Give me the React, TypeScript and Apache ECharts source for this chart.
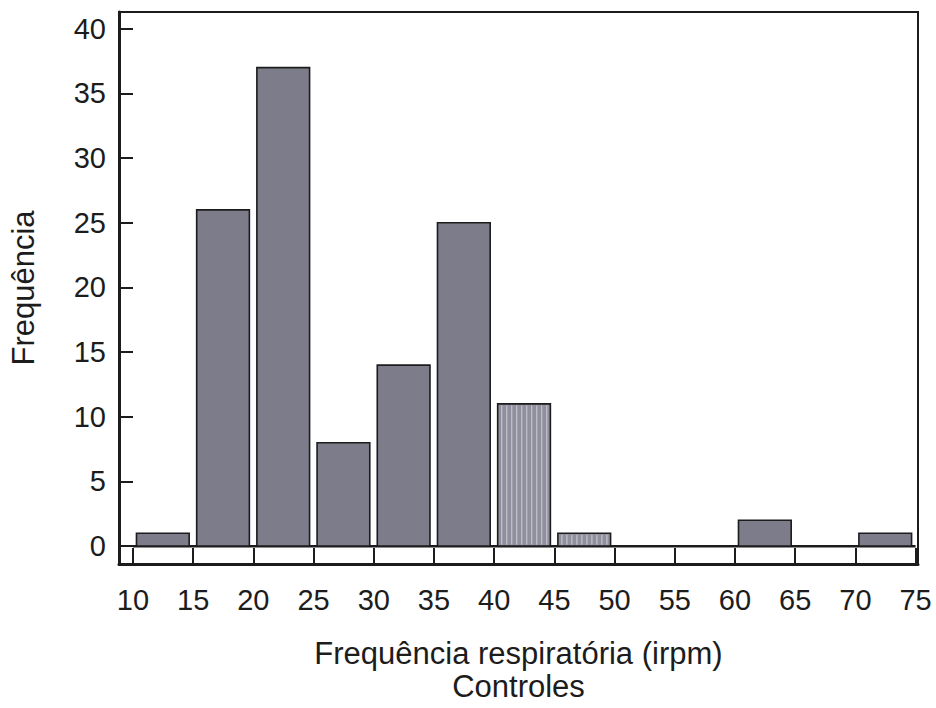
import React, { useEffect, useRef } from "react";
import * as echarts from "echarts";

// Histogram bins (irpm) and counts
const binStarts = [10, 15, 20, 25, 30, 35, 40, 45, 50, 55, 60, 65, 70];
const binWidth = 5;
const counts = [1, 26, 37, 8, 14, 25, 11, 1, 0, 0, 2, 0, 1];
const stripedBins = [6, 7];
const xTicks = [10, 15, 20, 25, 30, 35, 40, 45, 50, 55, 60, 65, 70, 75];
const yTicks = [0, 5, 10, 15, 20, 25, 30, 35, 40];
const xTitle = "Frequência respiratória (irpm)";
const subTitle = "Controles";
const yTitle = "Frequência";

const FONT = "'Liberation Sans', Arial, Helvetica, sans-serif";
const INK = "#1c1c1c";

export default function App() {
  const ref = useRef<HTMLDivElement>(null);

  useEffect(() => {
    if (!ref.current) return;
    const chart = echarts.init(ref.current, null, { renderer: "svg" });

    const data = binStarts.map((s, i) => [s, s + binWidth, counts[i], stripedBins.includes(i) ? 1 : 0]);

    const option: any = {
      animation: false,
      backgroundColor: "#ffffff",
      textStyle: { fontFamily: FONT, color: INK },
      grid: {
        left: 119,
        right: 18,
        top: 12,
        bottom: 140,
        show: true,
        borderColor: INK,
        borderWidth: 2,
        backgroundColor: "transparent",
      },
      xAxis: {
        type: "value",
        min: 8.84,
        max: 75.2,
        name: xTitle + "\n" + subTitle,
        nameLocation: "middle",
        nameGap: 73,
        nameTextStyle: { fontSize: 31, color: INK, fontFamily: FONT, lineHeight: 33 },
        splitLine: { show: false },
        axisLine: { show: true, onZero: false, lineStyle: { color: INK, width: 3 } },
        axisTick: {
          show: true,
          inside: true,
          length: 16,
          customValues: xTicks,
          lineStyle: { color: INK, width: 2 },
        },
        axisLabel: {
          customValues: xTicks,
          fontSize: 29,
          color: INK,
          fontFamily: FONT,
          margin: 21,
        },
      },
      yAxis: {
        type: "value",
        min: -1.38,
        max: 41.3,
        name: yTitle,
        nameLocation: "middle",
        nameGap: 80,
        nameTextStyle: { fontSize: 31, color: INK, fontFamily: FONT },
        splitLine: { show: false },
        axisLine: { show: true, onZero: false, lineStyle: { color: INK, width: 3 } },
        axisTick: {
          show: true,
          inside: true,
          length: 14,
          customValues: yTicks,
          lineStyle: { color: INK, width: 2 },
        },
        axisLabel: {
          customValues: yTicks,
          fontSize: 29,
          color: INK,
          fontFamily: FONT,
          margin: 13,
        },
      },
      series: [
        {
          type: "line",
          data: [
            [xTicks[0], 0],
            [xTicks[xTicks.length - 1], 0],
          ],
          symbol: "none",
          lineStyle: { color: INK, width: 2.5 },
          z: 1,
          silent: true,
        },
        {
          type: "custom",
          z: 3,
          data,
          encode: { x: [0, 1], y: 2 },
          renderItem: (params: any, api: any) => {
            const lo = api.value(0);
            const hi = api.value(1);
            const v = api.value(2);
            const striped = api.value(3) === 1;
            const pTop = api.coord([lo, v]);
            const pBase = api.coord([hi, 0]);
            const x = pTop[0] + 3.5;
            const w = pBase[0] - pTop[0] - 7.5;
            const y = pTop[1];
            const h = pBase[1] - pTop[1];
            const children: any[] = [
              {
                type: "rect",
                shape: { x, y, width: w, height: h },
                style: {
                  fill: striped ? "#8f8f9d" : "#7c7c8a",
                  stroke: INK,
                  lineWidth: 1.6,
                },
              },
            ];
            if (striped && h > 3) {
              for (let sx = x + 4; sx < x + w - 2; sx += 5) {
                children.push({
                  type: "line",
                  shape: { x1: sx, y1: y + 1.5, x2: sx, y2: y + h - 1.5 },
                  style: { stroke: "#bdbdc7", lineWidth: 1.4 },
                });
              }
            }
            return { type: "group", children };
          },
        },
      ],
    };

    chart.setOption(option);
    return () => chart.dispose();
  }, []);

  return (
    <div
      ref={ref}
      style={{ position: "absolute", left: 0, top: 0, width: 936, height: 708, background: "#fff" }}
    />
  );
}
